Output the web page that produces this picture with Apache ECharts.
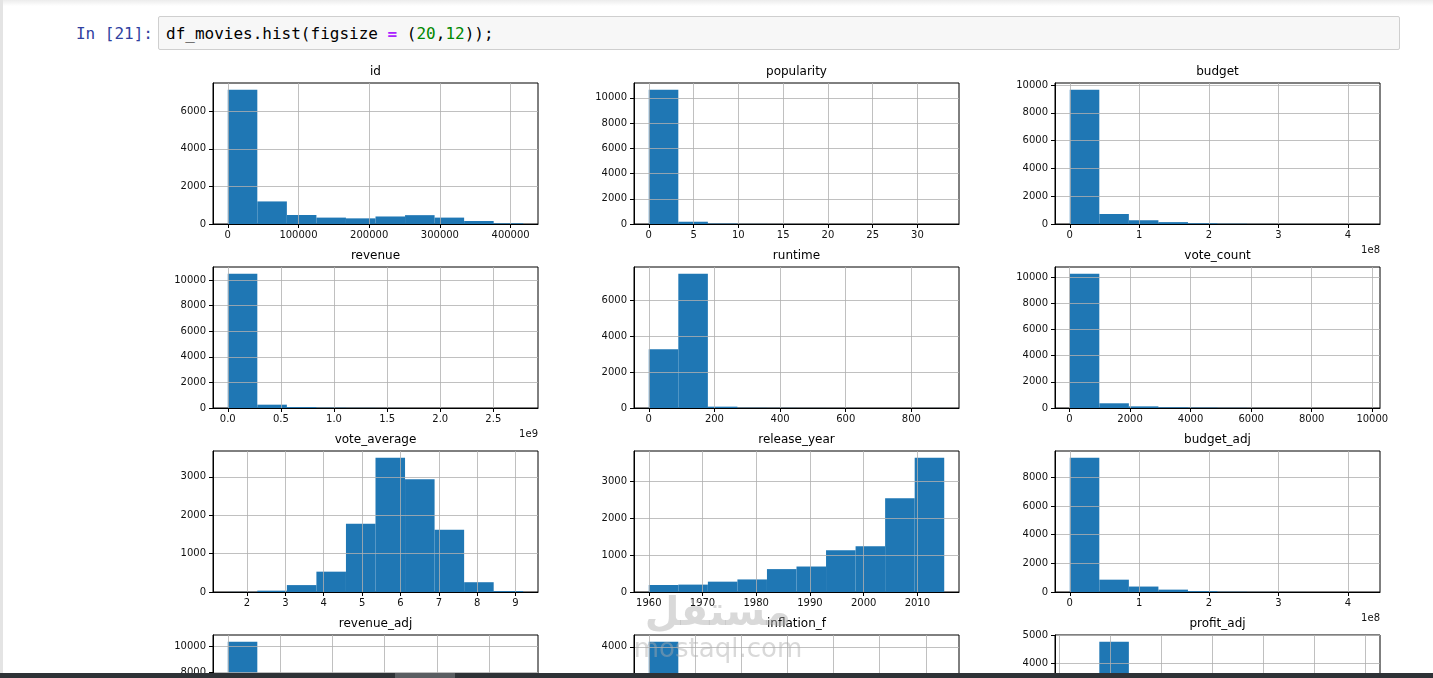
<!DOCTYPE html>
<html>
<head>
<meta charset="utf-8">
<script src="https://cdn.jsdelivr.net/npm/echarts@6/dist/echarts.min.js"></script>
<style>
  html, body { margin: 0; padding: 0; width: 1433px; height: 678px; overflow: hidden; background: #fff; }
  #edge { position: absolute; left: 0; top: 0; width: 3px; height: 678px; background: #e4e4e4; }
  #topband { position: absolute; left: 0; top: 0; width: 1433px; height: 6px; background: linear-gradient(#ececec, #fff); }
  #prompt { position: absolute; left: 60px; width: 93px; top: 24px; text-align: right; color: #303F9F;
            font: 16px "DejaVu Sans Mono", monospace; line-height: 20px; }
  #cell { position: absolute; left: 158px; top: 16px; width: 1242px; height: 34px; box-sizing: border-box;
          border: 1px solid #cfcfcf; border-radius: 2px; background: #f7f7f7;
          font: 16px "DejaVu Sans Mono", monospace; line-height: 20px; padding: 7px 0 0 7px; color: #000; }
  #cell .op { color: #AA22FF; font-weight: bold; }
  #cell .num { color: #008800; }
  #chart { position: absolute; left: 0; top: 0; width: 1433px; height: 800px; }
  #mark { position: absolute; left: 628px; top: 588px; width: 180px; text-align: center; color: rgba(170,170,170,0.45);
          font-family: "DejaVu Sans", sans-serif; pointer-events: none; }
  #mark .ar { font-size: 40px; font-weight: bold; line-height: 46px; }
  #mark .en { font-size: 26px; line-height: 28px; }
  #bar { position: absolute; left: 0; top: 673px; width: 1433px; height: 5px; background: #2e3236; }
  #thumb { position: absolute; left: 395px; top: 0; width: 60px; height: 5px; background: #5a5e62; }
</style>
</head>
<body>
<div id="topband"></div>
<div id="edge"></div>
<div id="prompt">In [21]:</div>
<div id="cell">df_movies.hist(figsize <span class="op">=</span> (<span class="num">20</span>,<span class="num">12</span>));</div>
<div id="chart"></div>
<div id="mark"><div class="ar">مستقل</div><div class="en">mostaql.com</div></div>
<div id="bar"><div id="thumb"></div></div>
<script>
// data range [min, max] of each column, 10 bins each
const idRange = [5, 417859];
const idCounts = [7140, 1200, 480, 340, 300, 400, 470, 340, 160, 36];
const idTicks = [0, 100000, 200000, 300000, 400000];
const idYTicks = [0, 2000, 4000, 6000];

const popularityRange = [0.000065, 32.985763];
const popularityCounts = [10640, 180, 33, 8, 3, 1, 0, 0, 0, 1];
const popularityTicks = [0, 5, 10, 15, 20, 25, 30];
const popularityYTicks = [0, 2000, 4000, 6000, 8000, 10000];

const budgetRange = [0, 425000000];
const budgetCounts = [9660, 720, 270, 135, 50, 20, 5, 3, 2, 1];
const budgetTicks = [0, 1e8, 2e8, 3e8, 4e8];
const budgetYTicks = [0, 2000, 4000, 6000, 8000, 10000];

const revenueRange = [0, 2781505847];
const revenueCounts = [10490, 260, 70, 25, 12, 5, 2, 1, 0, 1];
const revenueTicks = [0, 0.5e9, 1e9, 1.5e9, 2e9, 2.5e9];
const revenueYTicks = [0, 2000, 4000, 6000, 8000, 10000];

const runtimeRange = [0, 900];
const runtimeCounts = [3270, 7490, 75, 14, 8, 4, 2, 1, 0, 2];
const runtimeTicks = [0, 200, 400, 600, 800];
const runtimeYTicks = [0, 2000, 4000, 6000];

const voteCountRange = [10, 9767];
const voteCountCounts = [10270, 360, 125, 55, 32, 14, 5, 3, 1, 1];
const voteCountTicks = [0, 2000, 4000, 6000, 8000, 10000];
const voteCountYTicks = [0, 2000, 4000, 6000, 8000, 10000];

const voteAverageRange = [1.5, 9.2];
const voteAverageCounts = [2, 35, 180, 530, 1780, 3500, 2940, 1620, 255, 24];
const voteAverageTicks = [2, 3, 4, 5, 6, 7, 8, 9];
const voteAverageYTicks = [0, 1000, 2000, 3000];

const releaseYearRange = [1960, 2015];
const releaseYearCounts = [190, 200, 280, 340, 620, 690, 1130, 1240, 2540, 3636];
const releaseYearTicks = [1960, 1970, 1980, 1990, 2000, 2010];
const releaseYearYTicks = [0, 1000, 2000, 3000];

const budgetAdjRange = [0, 425000000];
const budgetAdjCounts = [9370, 860, 380, 165, 60, 18, 7, 3, 2, 1];
const budgetAdjTicks = [0, 1e8, 2e8, 3e8, 4e8];
const budgetAdjYTicks = [0, 2000, 4000, 6000, 8000];

const revenueAdjRange = [0, 2827123750];
const revenueAdjCounts = [10360, 330, 100, 40, 17, 8, 5, 3, 2, 1];
const revenueAdjTicks = [0, 0.5e9, 1e9, 1.5e9, 2e9, 2.5e9];
const revenueAdjYTicks = [0, 2000, 4000, 6000, 8000, 10000];

const inflationRange = [1, 7.4];
const inflationCounts = [4160, 2400, 1700, 1100, 700, 400, 220, 110, 50, 26];
const inflationTicks = [1, 2, 3, 4, 5, 6, 7];
const inflationYTicks = [0, 1000, 2000, 3000, 4000];

const profitAdjRange = [-395000000, 2497000000];
const profitAdjCounts = [2595, 4775, 1900, 800, 400, 200, 110, 50, 30, 6];
const profitAdjTicks = [-5e8, 0, 5e8, 1e9, 1.5e9, 2e9, 2.5e9];
const profitAdjYTicks = [0, 1000, 2000, 3000, 4000, 5000];

const panels = [
  { name: 'id', range: idRange, counts: idCounts, xTicks: idTicks, yTicks: idYTicks },
  { name: 'popularity', range: popularityRange, counts: popularityCounts, xTicks: popularityTicks, yTicks: popularityYTicks },
  { name: 'budget', range: budgetRange, counts: budgetCounts, xTicks: budgetTicks, yTicks: budgetYTicks, scale: 1e8, digits: 0 },
  { name: 'revenue', range: revenueRange, counts: revenueCounts, xTicks: revenueTicks, yTicks: revenueYTicks, scale: 1e9, digits: 1 },
  { name: 'runtime', range: runtimeRange, counts: runtimeCounts, xTicks: runtimeTicks, yTicks: runtimeYTicks },
  { name: 'vote_count', range: voteCountRange, counts: voteCountCounts, xTicks: voteCountTicks, yTicks: voteCountYTicks },
  { name: 'vote_average', range: voteAverageRange, counts: voteAverageCounts, xTicks: voteAverageTicks, yTicks: voteAverageYTicks },
  { name: 'release_year', range: releaseYearRange, counts: releaseYearCounts, xTicks: releaseYearTicks, yTicks: releaseYearYTicks },
  { name: 'budget_adj', range: budgetAdjRange, counts: budgetAdjCounts, xTicks: budgetAdjTicks, yTicks: budgetAdjYTicks, scale: 1e8, digits: 0 },
  { name: 'revenue_adj', range: revenueAdjRange, counts: revenueAdjCounts, xTicks: revenueAdjTicks, yTicks: revenueAdjYTicks, scale: 1e9, digits: 1 },
  { name: 'inflation_f', range: inflationRange, counts: inflationCounts, xTicks: inflationTicks, yTicks: inflationYTicks },
  { name: 'profit_adj', range: profitAdjRange, counts: profitAdjCounts, xTicks: profitAdjTicks, yTicks: profitAdjYTicks, scale: 1e9, digits: 1 },
];

const colLeft = [213, 634, 1055];
const rowTop = [83, 267, 451, 635];
const plotW = 325;
const plotH = 141;
const font = 'DejaVu Sans';

function renderBin(params, api) {
  const p0 = api.coord([api.value(0), api.value(2)]);
  const p1 = api.coord([api.value(1), 0]);
  return {
    type: 'rect',
    shape: { x: p0[0], y: p0[1], width: p1[0] - p0[0], height: p1[1] - p0[1] },
    style: { fill: '#1f77b4' },
  };
}

const grid = [], xAxis = [], yAxis = [], series = [], graphic = [];

panels.forEach((p, i) => {
  const left = colLeft[i % 3];
  const top = rowTop[Math.floor(i / 3)];
  const span = p.range[1] - p.range[0];
  const step = span / p.counts.length;
  const bins = p.counts.map((c, k) => [p.range[0] + k * step, p.range[0] + (k + 1) * step, c]);
  const ymax = Math.max(...p.counts) * 1.05;
  const scale = p.scale || 1;

  grid.push({ left, top, width: plotW, height: plotH, show: true, borderColor: '#000', borderWidth: 1 });

  xAxis.push({
    gridIndex: i, type: 'value', z: 3,
    min: p.range[0] - 0.05 * span, max: p.range[1] + 0.05 * span,
    axisLine: { show: true, onZero: false, lineStyle: { color: '#000', width: 1 } },
    axisTick: { show: true, length: 4, customValues: p.xTicks, lineStyle: { color: '#000' } },
    axisLabel: {
      customValues: p.xTicks, margin: 6, fontSize: 10, fontFamily: font, color: '#111',
      formatter: v => scale === 1 ? String(v) : (v / scale).toFixed(p.digits),
    },
    splitLine: { show: true, lineStyle: { color: '#b0b0b0', width: 0.8 } },
  });

  yAxis.push({
    gridIndex: i, type: 'value', z: 3, min: 0, max: ymax,
    axisLine: { show: true, onZero: false, lineStyle: { color: '#000', width: 1 } },
    axisTick: { show: true, length: 4, customValues: p.yTicks, lineStyle: { color: '#000' } },
    axisLabel: { customValues: p.yTicks, margin: 7, fontSize: 10, fontFamily: font, color: '#111', formatter: v => String(v) },
    splitLine: { show: true, lineStyle: { color: '#b0b0b0', width: 0.8 } },
  });

  series.push({
    type: 'custom', name: p.name, xAxisIndex: i, yAxisIndex: i,
    data: bins, encode: { x: [0, 1], y: 2 }, renderItem: renderBin, clip: true,
  });

  graphic.push({
    type: 'text', x: left + plotW / 2, y: top - 11,
    style: { text: p.name, font: '12px "DejaVu Sans"', fill: '#000', align: 'center', verticalAlign: 'middle' },
  });

  if (p.scale) {
    graphic.push({
      type: 'text', x: left + plotW, y: top + plotH + 26,
      style: { text: '1e' + Math.round(Math.log10(p.scale)), font: '10px "DejaVu Sans"', fill: '#111', align: 'right', verticalAlign: 'middle' },
    });
  }
});

const chart = echarts.init(document.getElementById('chart'));
chart.setOption({
  animation: false,
  grid, xAxis, yAxis, series, graphic,
});
</script>
</body>
</html>
